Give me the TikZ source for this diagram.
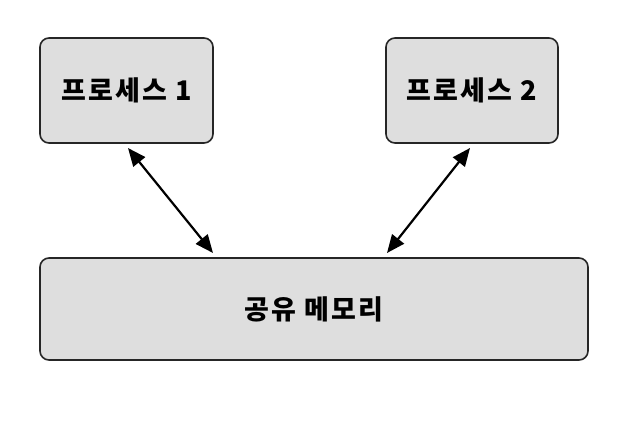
\documentclass[tikz,border=0pt]{standalone}
\usepackage{fontspec}
\newfontfamily\kr[LetterSpace=8]{Noto Sans CJK KR}
\usetikzlibrary{arrows.meta}
\begin{document}
\begin{tikzpicture}[x=1pt,y=-1pt,
  box/.style={draw=black!85, line width=1.6pt, fill=black!13, rounded corners=9pt, inner sep=0pt, font=\kr\fontsize{27}{32}\selectfont\bfseries},
  link/.style={line width=2.2pt, {Triangle[length=18pt,width=15pt]}-{Triangle[length=18pt,width=15pt]}}]
\path[use as bounding box, fill=white] (0,0) rectangle (632,426);
\node[box, minimum width=173pt, minimum height=105pt] (p1) at (126.5,90.5) {프로세스 1};
\node[box, minimum width=172pt, minimum height=105pt] (p2) at (472,90.5) {프로세스 2};
\node[box, minimum width=548pt, minimum height=102pt] (mem) at (314,309) {공유 메모리};
\coordinate (a1) at (128,148);
\coordinate (b1) at (213,253);
\coordinate (a2) at (470,148);
\coordinate (b2) at (387,253);
\draw[link] (a1) -- (b1);
\draw[link] (a2) -- (b2);
\end{tikzpicture}
\end{document}
